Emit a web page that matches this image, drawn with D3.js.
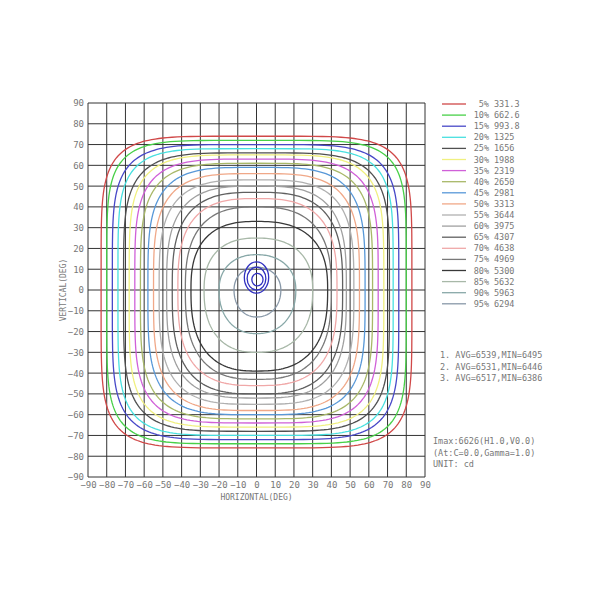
<!DOCTYPE html>
<html><head><meta charset="utf-8">
<script src="https://cdn.jsdelivr.net/npm/d3@7"></script>
<style>body{margin:0;background:#fff}text{font-family:"DejaVu Sans Mono",monospace;fill:#777}</style>
</head><body>
<svg id="chart" width="600" height="600"></svg>
<script>
// levels
var percents = [5,10,15,20,25,30,35,40,45,50,55,60,65,70,75,80,85,90,95];
var values = ["331.3","662.6","993.8","1325","1656","1988","2319","2650","2981","3313","3644","3975","4307","4638","4969","5300","5632","5963","6294"];
var colors = ["#d04848","#48d048","#4848c8","#48e0e0","#505050","#f0f080","#d060d8","#a8b868","#5898d8","#f0a888","#b0b0b0","#a0a0a0","#606060","#f0a8a8","#787878","#383838","#a8b8a8","#88a8a8","#8898a8"];
// contour extents in degrees: left, right, top, bottom, squareness
var cLeft   = [-83,-80,-77,-74,-71,-68,-65,-62,-58,-55,-52,-48,-45,-42,-38,-35,-28,-20,-12];
var cRight  = [ 83, 80, 76, 73, 71, 68, 65, 62, 58, 55, 52, 48, 46, 43, 40, 38, 30, 21, 13];
var cTop    = [ 74, 72, 70, 68, 66, 65, 63, 61, 59, 56, 53, 50, 47, 44, 40, 33, 25, 17, 11];
var cBottom = [-76,-74,-72,-70,-68,-66,-64,-62,-60,-58,-55,-52,-50,-46,-43,-39,-30,-21,-13];
var cPow    = [5.5,5.5,5,5,4.5,4.5,4.2,4,3.8,3.6,3.4,3.2,3,2.9,2.7,2.6,2.4,2.2,2.1];
// small blue shapes near the peak: cx, cy, rx, ry
var peakX = [0,0,0.5];
var peakY = [6,5.5,5];
var peakRx = [6.5,5,3];
var peakRy = [7.5,5.5,3];
var ticks = d3.range(-90,91,10);
var stats = ["1. AVG=6539,MIN=6495","2. AVG=6531,MIN=6446","3. AVG=6517,MIN=6386"];
var info = ["Imax:6626(H1.0,V0.0)"," (At:C=0.0,Gamma=1.0)","UNIT: cd"];

var svg = d3.select('#chart');
var x = d3.scaleLinear().domain([-90,90]).range([88,425]);
var y = d3.scaleLinear().domain([90,-90]).range([103,477]);

svg.append('g').selectAll('line.v').data(ticks).enter().append('line')
  .attr('x1',d=>x(d)).attr('x2',d=>x(d)).attr('y1',y(90)).attr('y2',y(-90))
  .attr('stroke','#333').attr('stroke-width',1);
svg.append('g').selectAll('line.h').data(ticks).enter().append('line')
  .attr('y1',d=>y(d)).attr('y2',d=>y(d)).attr('x1',x(-90)).attr('x2',x(90))
  .attr('stroke','#333').attr('stroke-width',1);

svg.append('g').attr('transform','translate(0,'+y(-90)+')')
  .call(d3.axisBottom(x).tickValues(ticks).tickSize(0).tickPadding(5))
  .call(g=>g.select('.domain').remove())
  .selectAll('text').style('font-size','9px').style('fill','#777');
svg.append('g').attr('transform','translate('+x(-90)+',0)')
  .call(d3.axisLeft(y).tickValues(ticks).tickSize(0).tickPadding(4))
  .call(g=>g.select('.domain').remove())
  .selectAll('text').style('font-size','9px').style('fill','#777');

svg.append('text').attr('x',(x(-90)+x(90))/2).attr('y',500).attr('text-anchor','middle')
  .style('font-size','8px').text('HORIZONTAL(DEG)');
svg.append('text').attr('transform','translate(66,'+y(0)+') rotate(-90)').attr('text-anchor','middle')
  .style('font-size','8px').text('VERTICAL(DEG)');

function superPath(l,r,t,b,p){
  var pts=[];
  for(var i=0;i<=200;i++){
    var a=i/200*2*Math.PI, c=Math.cos(a), s=Math.sin(a);
    var px=Math.sign(c)*Math.pow(Math.abs(c),2/p), py=Math.sign(s)*Math.pow(Math.abs(s),2/p);
    pts.push([x(px>0?px*r:-px*l), y(py>0?py*t:-py*b)]);
  }
  return d3.line()(pts)+'Z';
}
var cg = svg.append('g');
percents.forEach(function(p,i){
  cg.append('path').attr('d',superPath(cLeft[i],cRight[i],cTop[i],cBottom[i],cPow[i]))
    .attr('fill','none').attr('stroke',colors[i]).attr('stroke-width',1.3);
});
peakX.forEach(function(cx,i){
  cg.append('ellipse').attr('cx',x(cx)).attr('cy',y(peakY[i]))
    .attr('rx',x(peakRx[i])-x(0)).attr('ry',y(0)-y(peakRy[i]))
    .attr('fill','none').attr('stroke','#3030c0').attr('stroke-width',1.3);
});

var lg = svg.append('g');
percents.forEach(function(p,i){
  var yy = 104 + i*11.1;
  lg.append('line').attr('x1',442).attr('x2',466).attr('y1',yy).attr('y2',yy).attr('stroke',colors[i]).attr('stroke-width',1.3);
  lg.append('text').attr('x',489).attr('y',yy+3).attr('text-anchor','end').style('font-size','8.5px').text(p+'%');
  lg.append('text').attr('x',494).attr('y',yy+3).style('font-size','8.5px').text(values[i]);
});
stats.forEach(function(s,i){
  svg.append('text').attr('x',440).attr('y',358+i*11.5).style('font-size','8.5px').text(s);
});
info.forEach(function(s,i){
  svg.append('text').attr('x',433).attr('y',444+i*11.5).style('font-size','8.5px').text(s);
});
</script>
</body></html>
